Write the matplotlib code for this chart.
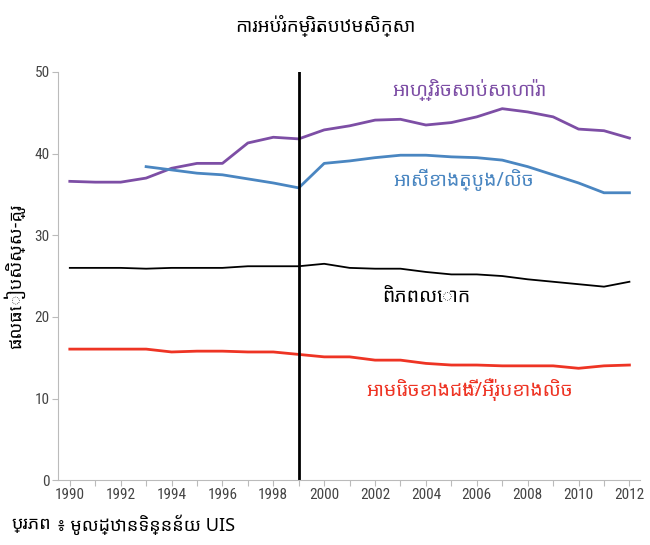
import matplotlib
matplotlib.use('Agg')
import matplotlib.pyplot as plt
from matplotlib import font_manager
from matplotlib.ft2font import FT2Font

# find fonts that actually have Khmer glyphs
khmer_fams = []
for f in font_manager.fontManager.ttflist:
    try:
        ft = FT2Font(f.fname)
        if ft.get_char_index(ord('ក')) and f.name not in khmer_fams:
            khmer_fams.append(f.name)
    except Exception:
        pass

pref = ['Noto Sans Khmer', 'Noto Sans Khmer UI', 'Kantumruy Pro', 'Hanuman', 'Khmer']
kh = [p for p in pref if p in khmer_fams] + khmer_fams[:1]
names = {f.name for f in font_manager.fontManager.ttflist}
num_pref = ['Roboto Condensed', 'Open Sans Condensed', 'Liberation Sans Narrow', 'Lato', 'DejaVu Sans']
num_font = [n for n in num_pref if n in names][0]

plt.rcParams['font.family'] = [kh[0], 'DejaVu Sans'] if kh else ['DejaVu Sans']

years = list(range(1990, 2013))
ssa = [36.6, 36.5, 36.5, 37.0, 38.2, 38.8, 38.8, 41.3, 42.0, 41.8, 42.9, 43.4,
       44.1, 44.2, 43.5, 43.8, 44.5, 45.5, 45.1, 44.5, 43.0, 42.8, 41.9]
sw_years = list(range(1993, 2013))
sw_asia = [38.4, 38.0, 37.6, 37.4, 36.9, 36.4, 35.8, 38.8, 39.1, 39.5, 39.8, 39.8,
           39.6, 39.5, 39.2, 38.4, 37.4, 36.4, 35.2, 35.2]
world = [26.0, 26.0, 26.0, 25.9, 26.0, 26.0, 26.0, 26.2, 26.2, 26.2, 26.5, 26.0,
         25.9, 25.9, 25.5, 25.2, 25.2, 25.0, 24.6, 24.3, 24.0, 23.7, 24.3]
na_we = [16.05, 16.05, 16.05, 16.05, 15.7, 15.8, 15.8, 15.7, 15.7, 15.4, 15.1, 15.1,
         14.7, 14.7, 14.3, 14.1, 14.1, 14.0, 14.0, 14.0, 13.7, 14.0, 14.1]

fig = plt.figure(figsize=(6.5, 5.45), dpi=100)
ax = fig.add_axes([0.089, 0.119, 0.895, 0.749])

ax.plot(years, ssa, color='#7d4ea5', lw=2)
ax.plot(sw_years, sw_asia, color='#4a86c1', lw=2)
ax.plot(years, world, color='black', lw=1.3)
ax.plot(years, na_we, color='#ee3424', lw=2)
ax.axvline(1999, color='black', lw=2)

ax.text(2005.7, 47.8, 'អាហ្វ្រិចសាប់សាហារ៉ា', color='#7d4ea5', fontsize=14, ha='center', va='center')
ax.text(2005.5, 36.8, 'អាស៊ីខាងត្បូង/លិច', color='#4a86c1', fontsize=14, ha='center', va='center')
ax.text(2004.0, 22.5, 'ពិភពលោក', color='black', fontsize=14, ha='center', va='center')
ax.text(2005.7, 11.2, 'អាមេរិចខាងជើង/អឺរ៉ុបខាងលិច', color='#ee3424', fontsize=14, ha='center', va='center')

ax.set_xlim(1989.53, 2012.4)
ax.set_ylim(0, 50)
ax.set_yticks(range(0, 51, 10))
ax.set_xticks(years)
ax.set_xticklabels([str(y) if y % 2 == 0 else '' for y in years])
for lab in ax.get_xticklabels() + ax.get_yticklabels():
    lab.set_fontfamily(num_font)
for s in ['top', 'right']:
    ax.spines[s].set_visible(False)
for s in ['left', 'bottom']:
    ax.spines[s].set_color('#bbbbbb')
ax.tick_params(colors='#bbbbbb', labelcolor='#444444', labelsize=11, length=4, pad=2)
ax.set_ylabel('ផលធៀបសិស្ស-គ្រូ', fontsize=13)
ax.yaxis.set_label_coords(-0.056, 0.5)

fig.text(0.5, 0.953, 'ការអប់រំកម្រិតបឋមសិក្សា', ha='center', va='center', fontsize=13.5)
src1 = fig.text(0.018, 0.038, 'ប្រភព', ha='left', va='center', fontsize=13, style='italic')
fig.canvas.draw()
bb = src1.get_window_extent().transformed(fig.transFigure.inverted())
fig.text(bb.x1 + 0.008, 0.038, '៖ មូលដ្ឋានទិន្នន័យ UIS', ha='left', va='center', fontsize=13)

fig.savefig('out.png', dpi=100)
